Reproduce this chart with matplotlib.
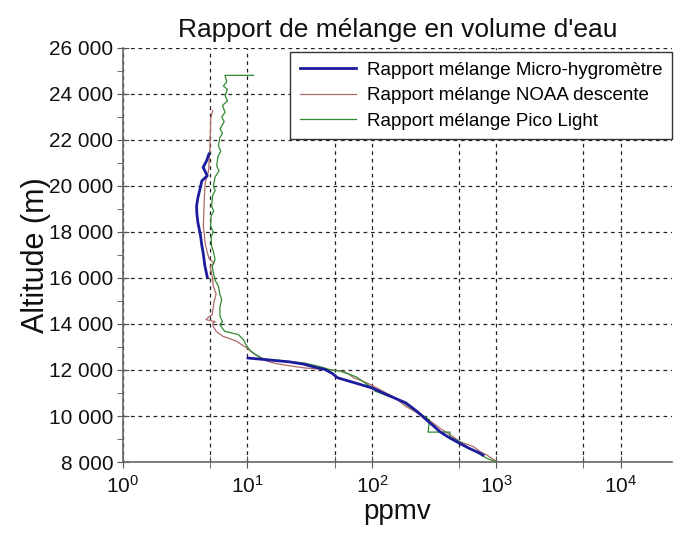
import numpy as np
import matplotlib
matplotlib.use('Agg')
import matplotlib.pyplot as plt
from matplotlib.ticker import FixedLocator, FuncFormatter, MultipleLocator

plt.rcParams['font.family'] = ['Liberation Sans', 'DejaVu Sans']
plt.rcParams['mathtext.fontset'] = 'custom'
plt.rcParams['mathtext.rm'] = 'Liberation Sans'
plt.rcParams['mathtext.it'] = 'Liberation Sans'

# Micro-hygrometre (two segments)
micro_alt_hi = [21390, 21100, 20810, 20600, 20440, 20225, 19860, 19500, 19130, 18800,
                18400, 17825, 17400, 17100, 16520, 16050]
micro_ppmv_hi = [4.9, 4.7, 4.4, 4.6, 4.75, 4.3, 4.15, 4.0, 3.9, 3.92,
                 4.0, 4.2, 4.3, 4.4, 4.55, 4.75]
micro_alt_lo = [12520, 12450, 12350, 12250, 12100, 12030, 11850, 11660, 11450, 11220,
                10900, 10570, 10200, 9840, 9550, 9320, 9050, 8800, 8600, 8370, 8300]
micro_ppmv_lo = [10.1, 14, 22, 28.5, 36, 41.6, 48, 53, 72, 100,
                 135, 187, 230, 273, 315, 351, 420, 511, 600, 745, 780]

# NOAA descente
noaa_alt = [23280, 22920, 22500, 22040, 21700, 21320, 20900, 20590, 20200, 20010,
            19500, 19130, 18700, 18260, 17900, 17530, 17100, 16810, 16650, 16500,
            16230, 15900, 15640, 15300, 15000, 14700, 14400, 14260, 14190, 14100,
            14040, 13900, 13680, 13460, 13350, 13250, 13100, 12960, 12750, 12520,
            12380, 12280, 12180, 12090, 12040, 11990, 11930, 11800, 11650, 11590,
            11450, 11330, 11100, 10860, 10650, 10420, 10200, 9980, 9750, 9470,
            9200, 8880, 8660, 8450, 8290, 8150, 8000]
noaa_ppmv = [5.25, 5.06, 5.05, 5.0, 5.0, 4.94, 4.9, 4.84, 4.6, 4.56,
             4.5, 4.48, 4.45, 4.42, 4.5, 4.56, 4.76, 4.94, 5.4, 5.0,
             5.15, 5.25, 5.32, 5.6, 5.4, 5.3, 5.2, 4.76, 4.64, 5.5,
             5.26, 5.3, 5.6, 6.36, 7.3, 8.18, 9.0, 9.88, 11.0, 12.7,
             14.5, 16.9, 22, 28.8, 38, 50.7, 60, 66, 71.6, 77.8,
             90, 100, 120, 146, 165, 187, 220, 256, 300, 351,
             420, 511, 657, 740, 844, 920, 1019]

# Pico Light
pico_alt = [24810, 24810, 24520, 24350, 24200, 23930, 23700, 23500, 23200, 23000,
            22800, 22480, 22300, 22100, 21750, 21500, 21300, 20880, 20650, 20400,
            20010, 19800, 19600, 19130, 18900, 18700, 18260, 18000, 17800, 17390,
            17100, 16810, 16500, 16230, 15900, 15640, 15300, 15060, 14700, 14330,
            14100, 13970, 13680, 13540, 13320, 13030, 12850, 12670, 12480, 12410,
            12300, 12150, 11990, 11960, 11700, 11400, 11220, 11080, 10900, 10710,
            10400, 10130, 9830, 9300, 9300, 9100, 8900, 8660, 8400, 8150,
            8000]
pico_ppmv = [11.2, 6.6, 6.81, 6.4, 6.9, 6.61, 6.9, 6.3, 6.6, 6.2,
             6.5, 6.02, 6.3, 6.0, 5.84, 6.1, 5.8, 5.66, 5.9, 5.5,
             5.32, 5.5, 5.25, 5.15, 5.35, 5.1, 5.06, 5.3, 5.1, 5.15,
             5.35, 5.49, 5.2, 5.32, 5.5, 5.84, 6.0, 6.2, 6.0, 6.02,
             6.3, 6.0, 6.56, 8.44, 9.27, 9.88, 10.5, 11.6, 13.5, 18.5,
             28.8, 38, 47.6, 55, 75, 90, 100, 106, 130, 165,
             200, 240, 290, 282, 423, 423, 500, 579, 700, 844,
             1000]

labels = ['Rapport mélange Micro-hygromètre',
          'Rapport mélange NOAA descente',
          'Rapport mélange Pico Light']

fig = plt.figure(figsize=(6.86, 5.33), dpi=100)
ax = fig.add_axes([0.1793, 0.1332, 0.8003, 0.7768])

ax.plot(micro_ppmv_hi, micro_alt_hi, color='#1c1c9c', lw=2.0, label=labels[0], zorder=4)
ax.plot(micro_ppmv_lo, micro_alt_lo, color='#1c1c9c', lw=2.0, zorder=4)
ax.plot(noaa_ppmv, noaa_alt, color='#b06868', lw=0.9, label=labels[1], zorder=3)
ax.plot(pico_ppmv, pico_alt, color='#2f8a2f', lw=0.9, label=labels[2], zorder=3)

ax.set_xscale('log')
ax.set_xlim(1, 25700)
ax.set_ylim(8000, 26000)

ax.xaxis.set_major_locator(FixedLocator([1, 10, 100, 1000, 10000]))
ax.xaxis.set_minor_locator(FixedLocator([5, 50, 500, 5000]))
ax.xaxis.set_major_formatter(FuncFormatter(lambda v, p: '$10^{%d}$' % round(np.log10(v))))
ax.xaxis.set_minor_formatter(FuncFormatter(lambda v, p: ''))
ax.yaxis.set_major_locator(MultipleLocator(2000))
ax.yaxis.set_minor_locator(MultipleLocator(1000))
ax.yaxis.set_major_formatter(FuncFormatter(lambda v, p: '{:,}'.format(int(v)).replace(',', ' ')))

ax.grid(True, which='both', axis='x', color='#222222', ls=(0, (3, 3)), lw=0.9)
ax.grid(True, which='major', axis='y', color='#222222', ls=(0, (3, 3)), lw=0.9)

for s in ['top', 'right']:
    ax.spines[s].set_visible(False)
for s in ['left', 'bottom']:
    ax.spines[s].set_color('#666666')
    ax.spines[s].set_linewidth(1.2)

ax.tick_params(axis='both', which='major', direction='inout', length=8, color='#555555',
               labelsize=15, labelcolor='#111111')
ax.tick_params(axis='y', which='minor', direction='out', length=4, color='#555555')
ax.tick_params(axis='x', which='minor', direction='inout', length=8, color='#555555')
ax.tick_params(axis='x', which='major', pad=5)
ax.tick_params(axis='y', which='major', pad=3)

ax.set_title("Rapport de mélange en volume d'eau", fontsize=19, color='#111111', pad=8)
ax.set_xlabel('ppmv', fontsize=20, color='#111111')
ax.xaxis.set_label_coords(0.5, -0.12)
ax.xaxis.label.set_va('center')
ax.set_ylabel('Altitude (m)', fontsize=22, color='#111111')
ax.yaxis.set_label_coords(-0.158, 0.5)
ax.yaxis.label.set_va('center')

leg = ax.legend(loc='upper right', bbox_to_anchor=(1.0, 0.99), fontsize=13.5,
                frameon=True, fancybox=False, edgecolor='#333333', framealpha=1,
                handlelength=3.0, labelspacing=0.45, borderaxespad=0, borderpad=0.5,
                handletextpad=0.6)
leg.get_frame().set_linewidth(1.0)

fig.savefig('out.png', dpi=100)
